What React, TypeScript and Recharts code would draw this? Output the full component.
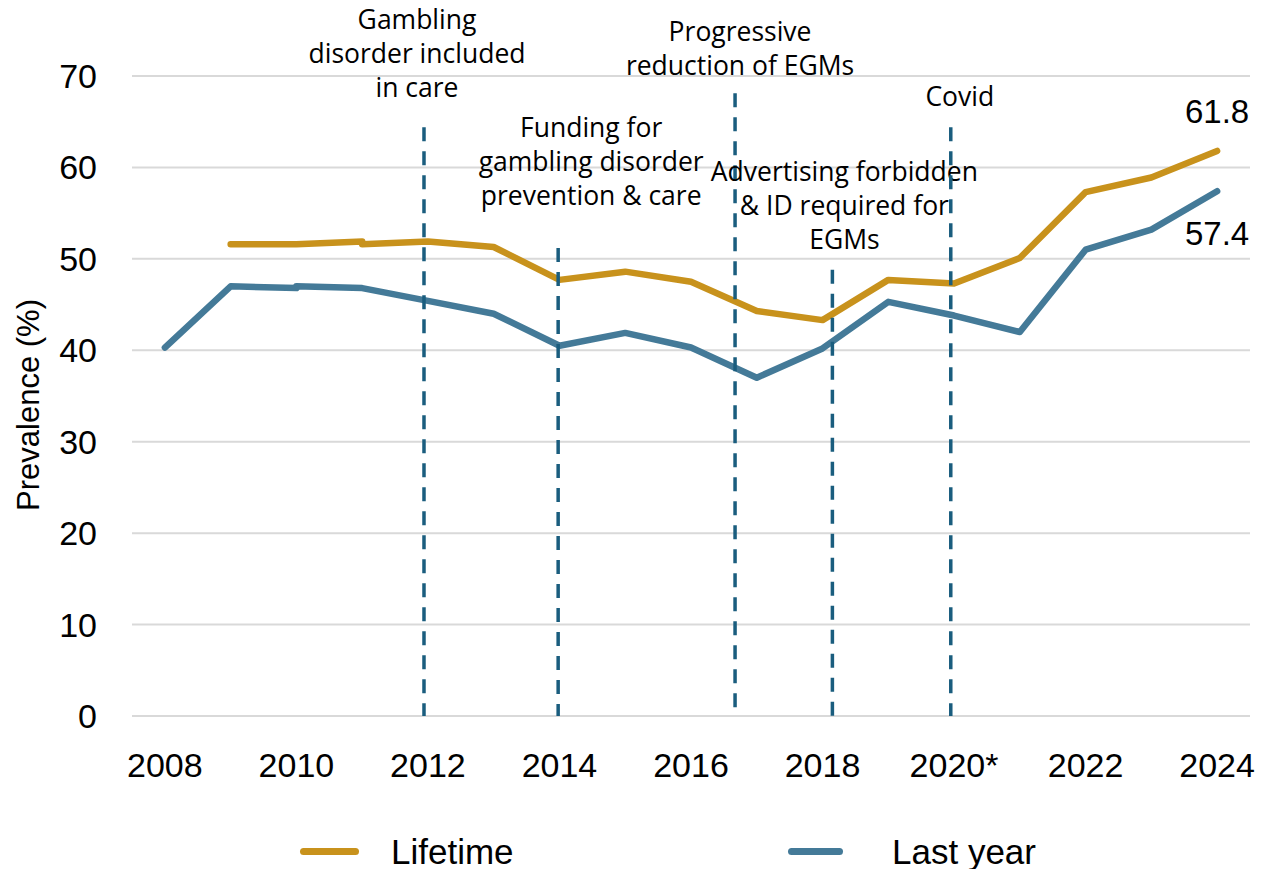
import {
  CartesianGrid,
  LabelList,
  Legend,
  Line,
  LineChart,
  ReferenceLine,
  XAxis,
  YAxis,
} from "recharts";

// prevalence of gambling, % (the break years have two values: survey method change)
const lifetimeYears = [2009, 2010, 2011, 2011, 2012, 2013, 2014, 2015, 2016, 2017, 2018, 2019, 2020, 2021, 2022, 2023, 2024];
const lifetimeValues = [51.6, 51.6, 51.9, 51.6, 51.9, 51.3, 47.7, 48.6, 47.5, 44.3, 43.3, 47.7, 47.3, 50.1, 57.3, 58.9, 61.8];

const lastYearYears = [2008, 2009, 2010, 2010, 2011, 2012, 2013, 2014, 2015, 2016, 2017, 2018, 2019, 2020, 2021, 2022, 2023, 2024];
const lastYearValues = [40.3, 47.0, 46.8, 47.0, 46.8, 45.4, 44.0, 40.5, 41.9, 40.3, 37.0, 40.2, 45.3, 43.8, 42.0, 51.0, 53.2, 57.4];

const seriesNames = ["Lifetime", "Last year"];

const xTicks = [2008, 2010, 2012, 2014, 2016, 2018, 2020, 2022, 2024];
const yTicks = [0, 10, 20, 30, 40, 50, 60, 70];

// policy events drawn as dashed markers
const eventYears = [2011.94, 2013.98, 2016.67, 2018.15, 2019.95];
const eventTops = [64.4, 51.2, 68.1, 48.8, 64.4];
const eventBottoms = [0, 0, 0.6, 0, 0];
const eventLabels = [
  ["Gambling", "disorder included", "in care"],
  ["Funding for", "gambling disorder", "prevention & care"],
  ["Progressive", "reduction of EGMs"],
  ["Advertising forbidden", "& ID required for", "EGMs"],
  ["Covid"],
];

const GOLD = "#C8921C";
const BLUE = "#447A98";
const DASH = "#1A5D7E";
const seriesColors = [GOLD, BLUE];
const TICK_FONT = "'Liberation Sans', Arial, sans-serif";
const NOTE_FONT = "'Open Sans', sans-serif";

// pixel offset of each note's first line centre from the top of its dashed line
const noteOffsets = [
  [-7, -107],
  [33, -120],
  [5, -62],
  [12, -98],
  [9, -30],
];
// legend: [line start, line end, text start]
const legendPos = [
  [300, 359, 391],
  [788, 843, 892],
];

const lifetime = lifetimeYears.map((year, i) => ({ year, value: lifetimeValues[i] }));
const lastYear = lastYearYears.map((year, i) => ({ year, value: lastYearValues[i] }));

function endLabel(data: { value: number }[], dy: number) {
  return (props: any) => {
    if (props.index !== data.length - 1) return null;
    return (
      <text
        x={props.x}
        y={props.y + dy}
        textAnchor="middle"
        fontFamily={TICK_FONT}
        fontSize={33}
        fill="#000"
      >
        {data[props.index].value.toFixed(1)}
      </text>
    );
  };
}

function noteLabel(lines: string[], offset: number[]) {
  return (props: any) => {
    const vb = props.viewBox;
    return (
      <text
        x={vb.x + offset[0]}
        y={vb.y + offset[1]}
        textAnchor="middle"
        fontFamily={NOTE_FONT}
        fontSize={26.5}
        fill="#000"
      >
        {lines.map((line, i) => (
          <tspan key={i} x={vb.x + offset[0]} dy={i === 0 ? "0.35em" : 34}>
            {line}
          </tspan>
        ))}
      </text>
    );
  };
}

function renderLegend() {
  return (
    <div style={{ position: "relative", height: 60, width: 1261 }}>
      {seriesNames.map((name, i) => (
        <div key={name}>
          <div
            style={{
              position: "absolute",
              left: legendPos[i][0],
              top: 39,
              width: legendPos[i][1] - legendPos[i][0],
              height: 7,
              borderRadius: 4,
              background: seriesColors[i],
            }}
          />
          <div
            style={{
              position: "absolute",
              left: legendPos[i][2],
              top: 22,
              fontFamily: TICK_FONT,
              fontSize: 35,
              lineHeight: "42px",
              color: "#000",
              whiteSpace: "nowrap",
            }}
          >
            {name}
          </div>
        </div>
      ))}
    </div>
  );
}

function YLabel(props: any) {
  const vb = props.viewBox;
  const cx = 28;
  const cy = vb.y + vb.height / 2 + 9;
  return (
    <text
      x={cx}
      y={cy}
      transform={`rotate(-90, ${cx}, ${cy})`}
      textAnchor="middle"
      dominantBaseline="central"
      fontFamily={TICK_FONT}
      fontSize={31}
      fill="#000"
    >
      Prevalence (%)
    </text>
  );
}

export default function App() {
  return (
    <div style={{ width: 1261, height: 869, background: "#fff" }}>
      <style>{"body{margin:0}"}</style>
      <LineChart width={1261} height={869} margin={{ top: 76, right: 11, bottom: 0, left: 0 }}>
        <CartesianGrid stroke="#D9D9D9" strokeWidth={2} vertical={false} />
        <XAxis
          dataKey="year"
          type="number"
          domain={[2007.5, 2024.5]}
          ticks={xTicks}
          allowDuplicatedCategory={false}
          tickFormatter={(v: number) => (v === 2020 ? "2020*" : String(v))}
          axisLine={false}
          tickLine={false}
          tickSize={0}
          tickMargin={37}
          height={93}
          tick={{ fontFamily: TICK_FONT, fontSize: 34, fill: "#000" }}
        />
        <YAxis
          type="number"
          domain={[0, 70]}
          ticks={yTicks}
          axisLine={false}
          tickLine={false}
          tickSize={0}
          tickMargin={35}
          width={132}
          tick={{ fontFamily: TICK_FONT, fontSize: 34, fill: "#000" }}
          label={<YLabel />}
        />
        <Legend verticalAlign="bottom" content={renderLegend} />
        <Line
          data={lifetime}
          dataKey="value"
          name={seriesNames[0]}
          type="linear"
          stroke={GOLD}
          strokeWidth={6.5}
          strokeLinecap="round"
          strokeLinejoin="round"
          dot={false}
          activeDot={false}
          isAnimationActive={false}
        >
          <LabelList content={endLabel(lifetime, -28)} />
        </Line>
        <Line
          data={lastYear}
          dataKey="value"
          name={seriesNames[1]}
          type="linear"
          stroke={BLUE}
          strokeWidth={6.5}
          strokeLinecap="round"
          strokeLinejoin="round"
          dot={false}
          activeDot={false}
          isAnimationActive={false}
        >
          <LabelList content={endLabel(lastYear, 54)} />
        </Line>
        {eventYears.map((year, i) => (
          <ReferenceLine
            key={year}
            segment={[
              { x: year, y: eventTops[i] },
              { x: year, y: eventBottoms[i] },
            ]}
            stroke={DASH}
            strokeWidth={3.5}
            strokeDasharray="14 10"
            label={noteLabel(eventLabels[i], noteOffsets[i])}
          />
        ))}
      </LineChart>
    </div>
  );
}
